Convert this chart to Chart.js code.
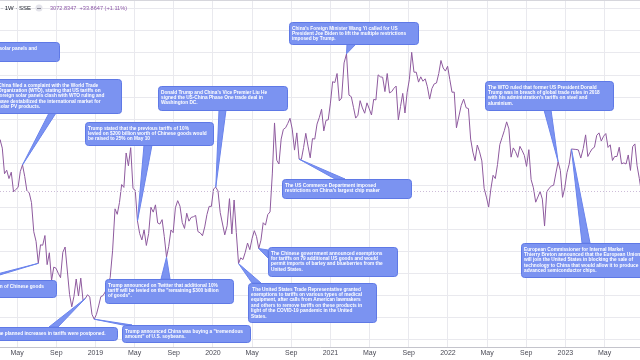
<!DOCTYPE html>
<html>
<head>
<meta charset="utf-8">
<script src="https://cdn.jsdelivr.net/npm/chart.js@4.4.1/dist/chart.umd.min.js"></script>
<style>
html, body { margin: 0; padding: 0; background: #ffffff; }
#wrap { width: 640px; height: 360px; }
</style>
</head>
<body>
<div id="wrap"><canvas id="sse_chart" width="640" height="360"></canvas></div>
<script>
// SSE Composite, weekly closes (1W). First bar = week ending 2018-02-23.
// null = week without trading (Spring Festival / Golden Week)
var first_week = "2018-02-23";
var closes_2018 = [3289,
    3254, 3307, 3269, 3153, 3169,
    3131, 3160, 3071, 3082,
    3091, 3163, 3193, 3141,
    3075, 3067, 3022, 2890, 2847,
    2747, 2831, 2829, 2873,
    2741, 2795, 2669, 2730, 2725,
    2702, 2682, 2797, 2821,
    null, 2606, 2550, 2598,
    2676, 2599, 2680, 2579, 2588,
    2605, 2594, 2516, 2494];
var closes_2019 = [2515, 2554, 2596, 2601,
    2618, null, 2682, 2804,
    2994, 2969, 3022, 3104, 3091,
    3247, 3189, 3271, 3086,
    3078, 2939, 2882, 2853, 2899,
    2828, 2882, 3001, 2979,
    3012, 2930, 2925, 2945,
    2868, 2775, 2824, 2898, 2886,
    2999, 3031, 3006, 2932,
    2905, 2974, 2938, 2955,
    2958, 2964, 2891, 2885, 2872,
    2912, 2968, 3005, 3005];
var closes_2020 = [3084, 3092, 3075, 2977, null,
    2876, 2917, 3040, 2880,
    3034, 2887, 2746, 2772,
    2764, 2797, 2839, 2809,
    2860, 2895, 2868, 2814, 2852,
    2931, 2920, 2968, 2980,
    3152, 3383, 3214, 3197, 3310,
    3354, 3361, 3381, 3404,
    3355, 3260, 3338, 3219,
    3218, 3272, 3336, 3278, 3225,
    3312, 3310, 3378, 3408,
    3445, 3347, 3395, 3397];
var closes_2021 = [3473, 3570, 3566, 3607, 3483,
    3496, 3655, 3696, 3509,
    3502, 3454, 3405, 3418,
    3484, 3451, 3427, 3474, 3447,
    3419, 3490, 3487, 3601,
    3592, 3590, 3525, 3607,
    3519, 3525, 3540, 3550, 3397,
    3458, 3517, 3428, 3522,
    3581, 3703, 3613, 3613,
    3568, 3592, 3572, 3583, 3547,
    3491, 3539, 3560, 3564,
    3607, 3666, 3632, 3618, 3640];
var closes_2022 = [3580, 3522, 3523, 3361,
    null, 3462, 3491, 3452,
    3448, 3310, 3251, 3212,
    3283, 3252, 3211, 3087, 3047,
    3002, 3084, 3146, 3131,
    3195, 3285, 3317, 3349,
    3388, 3356, 3228, 3270, 3253,
    3227, 3277, 3258, 3236,
    3186, 3262, 3126, 3089, 3024,
    null, 3072, 3038, 2916,
    3071, 3087, 3097, 3101,
    3156, 3207, 3168, 3046, 3089];
var closes_2023 = [3158, 3196, 3265, null,
    3263, 3261, 3224, 3267,
    3329, 3231, 3250, 3266, 3273,
    3327, 3338, 3301, 3323,
    3335, 3272, 3284, 3213,
    3231, 3231, 3273, 3198, 3202,
    3197, 3238, 3168, 3276,
    3288, 3189, 3132, 3065];

var last_price = "3072.8347";
var last_change = "+33.8647 (+1.11%)";
var last_value = 3072.8347;

// axis ticks: months counted from Jan 2018, and price grid
var month_ticks = [4, 8, 12, 16, 20, 24, 28, 32, 36, 40, 44, 48, 52, 56, 60, 64];
var price_ticks = [2400, 2500, 2600, 2700, 2800, 2900, 3000, 3100, 3200, 3300, 3400, 3500, 3600, 3700, 3800, 3900];

// callouts: week the pointer goes to, and the text lines
var note_weeks = ["2018-01-19", "2018-05-18", "2020-01-10", "2019-05-10", "2018-07-06", "2018-11-30",
    "2019-08-09", "2018-12-28", "2021-02-19", "2020-09-25", "2020-05-22", "2020-03-20",
    "2022-12-09", "2023-01-20"];
var note_texts = [
    ["US safeguard tariffs on imported solar panels and", "washing machines."],
    ["China filed a complaint with the World Trade", "Organization (WTO), stating that US tariffs on",
     "foreign solar panels clash with WTO ruling and", "have destabilized the international market for", "solar PV products."],
    ["Donald Trump and China's Vice Premier Liu He", "signed the US-China Phase One trade deal in", "Washington DC."],
    ["Trump stated that the previous tariffs of 10%", "levied on $200 billion worth of Chinese goods would", "be raised to 25% on May 10"],
    ["US imposed tariffs on $34 billion of Chinese goods", "imports."],
    ["The planned increases in tariffs were postponed."],
    ["Trump announced on Twitter that additional 10%", "tariff will be levied on the \"remaining $300 billion", "of goods\"."],
    ["Trump announced China was buying a \"tremendous", "amount\" of U.S. soybeans."],
    ["China's Foreign Minister Wang Yi called for US", "President Joe Biden to lift the multiple restrictions", "imposed by Trump."],
    ["The US Commerce Department imposed", "restrictions on China's largest chip maker"],
    ["The Chinese government announced exemptions", "for tariffs on 79 additional US goods and would",
     "permit imports of barley and blueberries from the", "United States."],
    [" The United States Trade Representative granted", "exemptions to tariffs on various types of medical",
     "equipment, after calls from American lawmakers", "and others to remove tariffs on these products in",
     "light of the COVID-19 pandemic in the United", "States."],
    ["The WTO ruled that former US President Donald", "Trump was in breach of global trade rules in 2018",
     "with his administration's tariffs on steel and", "aluminium."],
    ["European Commissioner for Internal Market", "Thierry Breton announced that the European Union",
     "will join the United States in blocking the sale of", "technology to China that would allow it to produce",
     "advanced semiconductor chips."]
];

// layout of the callout boxes: [left, top, width, height], pointer base [x1, y1, x2, y2], first line end (optional)
var note_boxes = [
    {box: [-69, 42, 128, 19], base: null, end: 37},
    {box: [-5, 79, 126, 34], base: [49, 113, 56, 113]},
    {box: [158, 86, 129, 24], base: [219, 110, 226, 110]},
    {box: [85, 122, 128, 23], base: [144, 145, 152, 145]},
    {box: [-72, 280, 128, 17], base: [-26, 280, -17, 280], end: 44},
    {box: [-8, 327, 125, 13], base: [49, 327, 58, 327]},
    {box: [105, 279, 128, 24], base: [161, 279, 170, 279]},
    {box: [122, 325, 128, 17], base: [123, 325, 132, 325]},
    {box: [289, 22, 129, 22], base: [347, 44, 356, 44]},
    {box: [282, 179, 129, 19], base: [335, 179, 345, 179]},
    {box: [268, 247, 129, 29], base: [268, 250, 268, 258]},
    {box: [248, 283, 128, 39], base: [252, 283, 261, 283]},
    {box: [485, 81, 128, 29], base: [544, 110, 551, 110]},
    {box: [521, 243, 130, 34], base: [582, 243, 590, 243]}
];

var day_ms = 86400000;

function month_pos(d) {
    var dim = new Date(Date.UTC(d.getUTCFullYear(), d.getUTCMonth() + 1, 0)).getUTCDate();
    return (d.getUTCFullYear() - 2018) * 12 + d.getUTCMonth() + (d.getUTCDate() - 1) / dim;
}

var all_closes = closes_2018.concat(closes_2019, closes_2020, closes_2021, closes_2022, closes_2023);
var start_ms = Date.parse(first_week + "T00:00:00Z");
var week_names = [];
var points = [];
for (var i = 0; i < all_closes.length; i++) {
    var d = new Date(start_ms + i * 7 * day_ms);
    week_names.push(d.toISOString().slice(0, 10));
    points.push({x: month_pos(d), y: all_closes[i]});
}

function tick_name(v) {
    if (v % 12 === 0) return String(2018 + v / 12);
    if (v % 12 === 4) return "May";
    if (v % 12 === 8) return "Sep";
    return "";
}

var note_font = 'bold 10px "Liberation Sans", Arial, sans-serif';
var note_px = 5;

var notes_plugin = {
    id: "notes",
    afterDatasetsDraw: function(chart) {
        var ctx = chart.ctx;
        var xs = chart.scales.x;
        var ys = chart.scales.y;
        var area = chart.chartArea;
        ctx.save();

        // last price line
        var py = Math.round(ys.getPixelForValue(last_value)) + 0.5;
        ctx.strokeStyle = "#cdbcd8";
        ctx.lineWidth = 1;
        ctx.setLineDash([1, 2]);
        ctx.beginPath();
        ctx.moveTo(area.left, py);
        ctx.lineTo(area.right, py);
        ctx.stroke();
        ctx.setLineDash([]);

        // size the note font so the widest reference line fits
        ctx.font = note_font;
        var w10 = ctx.measureText("levied on $200 billion worth of Chinese goods would").width;
        note_px = 10 * 119 / w10;
        var font = 'bold ' + note_px.toFixed(2) + 'px "Liberation Sans", Arial, sans-serif';

        for (var n = 0; n < note_boxes.length; n++) {
            var nb = note_boxes[n];
            var b = nb.box;
            var fill = "#7b93f1";
            // pointer
            var k = week_names.indexOf(note_weeks[n]);
            if (nb.base && k >= 0 && all_closes[k] !== null) {
                var tx = xs.getPixelForValue(points[k].x);
                var ty = ys.getPixelForValue(points[k].y);
                ctx.fillStyle = fill;
                ctx.strokeStyle = "#6a83ec";
                ctx.beginPath();
                ctx.moveTo(nb.base[0], nb.base[1]);
                ctx.lineTo(tx, ty);
                ctx.lineTo(nb.base[2], nb.base[3]);
                ctx.closePath();
                ctx.fill();
                ctx.stroke();
            }
            // box
            ctx.fillStyle = fill;
            ctx.strokeStyle = "#5f79e6";
            ctx.lineWidth = 1;
            ctx.beginPath();
            ctx.roundRect(b[0] + 0.5, b[1] + 0.5, b[2], b[3], 3);
            ctx.fill();
            ctx.stroke();
            // text
            ctx.font = font;
            ctx.fillStyle = "#ffffff";
            ctx.textBaseline = "middle";
            ctx.textAlign = "left";
            var lines = note_texts[n];
            var lx = b[0] + 3;
            if (nb.end !== undefined) lx = nb.end - ctx.measureText(lines[0]).width;
            for (var j = 0; j < lines.length; j++) {
                ctx.fillText(lines[j], lx, b[1] + 6.2 + j * 5.4);
            }
        }

        // header
        ctx.textBaseline = "middle";
        ctx.font = '6px "Liberation Sans", Arial, sans-serif';
        ctx.fillStyle = "#131722";
        ctx.fillText("\u00b7 1W \u00b7 SSE", 1, 8);
        ctx.fillStyle = "#e3e3ea";
        ctx.beginPath();
        ctx.arc(39, 8, 3.5, 0, Math.PI * 2);
        ctx.fill();
        ctx.strokeStyle = "#8a8a96";
        ctx.beginPath();
        ctx.moveTo(37, 8.5);
        ctx.lineTo(41, 8.5);
        ctx.stroke();
        ctx.font = '5.6px "Liberation Sans", Arial, sans-serif';
        ctx.fillStyle = "#8e5aa8";
        ctx.fillText(last_price + "  " + last_change, 50, 8);

        // top frame line
        ctx.strokeStyle = "#d6d6dc";
        ctx.beginPath();
        ctx.moveTo(0, 0.5);
        ctx.lineTo(640, 0.5);
        ctx.stroke();
        ctx.restore();
    }
};

var ctx = document.getElementById("sse_chart");
var sse_chart = new Chart(ctx, {
    type: "line",
    data: {
        datasets: [{
            label: "SSE",
            data: points,
            borderColor: "#8e5a9e",
            borderWidth: 1,
            pointRadius: 0,
            tension: 0,
            spanGaps: true,
            fill: false
        }]
    },
    options: {
        responsive: false,
        animation: false,
        devicePixelRatio: 1,
        parsing: false,
        layout: { padding: 0 },
        plugins: {
            legend: { display: false },
            tooltip: { enabled: false }
        },
        scales: {
            x: {
                type: "linear",
                position: "bottom",
                min: 2.25,
                max: 67.62,
                afterBuildTicks: function(s) {
                    s.ticks = month_ticks.map(function(v) { return {value: v}; });
                },
                afterFit: function(s) { s.height = 13; },
                grid: { color: "#e9e9ee", drawTicks: false },
                border: { color: "#c4c4cc" },
                ticks: {
                    autoSkip: false,
                    maxRotation: 0,
                    padding: 2,
                    color: "#4a4a55",
                    font: { family: "Liberation Sans", size: 7 },
                    callback: function(v) { return tick_name(v); }
                }
            },
            y: {
                type: "linear",
                position: "right",
                min: 2368,
                max: 3940,
                afterBuildTicks: function(s) {
                    s.ticks = price_ticks.map(function(v) { return {value: v}; });
                },
                afterFit: function(s) { s.width = 0; },
                grid: { color: "#e9e9ee", drawTicks: false },
                border: { display: false },
                ticks: { display: false }
            }
        }
    },
    plugins: [notes_plugin]
});
</script>
</body>
</html>
